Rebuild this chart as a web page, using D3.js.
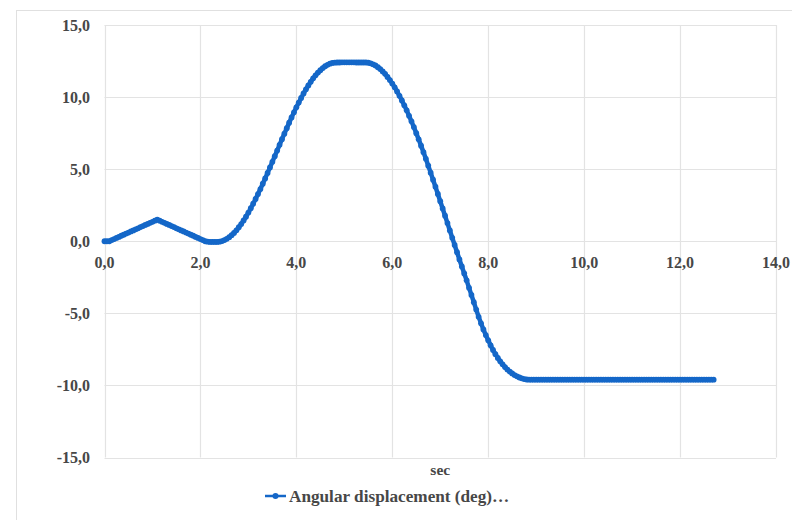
<!DOCTYPE html>
<html>
<head>
<meta charset="utf-8">
<script src="https://cdn.jsdelivr.net/npm/d3@7"></script>
<style>
  html, body { margin: 0; padding: 0; background: #ffffff; }
  svg { display: block; }
  .tick-label { font-family: "Liberation Serif", "Times New Roman", serif; font-weight: bold; fill: #474747; }
</style>
</head>
<body>
<svg id="chart" width="792" height="520"></svg>
<script>
// Sampling interval of the recorded series (seconds)
const sampleStep = 0.05;

// Angular displacement (deg), one row per second of recording
const angularDisplacement = [
  0, 0, 0, 0.08, 0.15, 0.23, 0.30, 0.38, 0.45, 0.53, 0.60, 0.68, 0.75, 0.83, 0.90, 0.98, 1.05, 1.13, 1.20, 1.28,
  1.35, 1.43, 1.50, 1.43, 1.35, 1.28, 1.20, 1.13, 1.05, 0.98, 0.90, 0.83, 0.75, 0.68, 0.60, 0.53, 0.45, 0.38, 0.30, 0.23,
  0.15, 0.08, 0.00, -0.03, -0.05, -0.05, -0.05, -0.05, -0.03, 0.01, 0.08, 0.17, 0.28, 0.42, 0.58, 0.76, 0.97, 1.19, 1.44, 1.70,
  1.99, 2.29, 2.60, 2.93, 3.27, 3.62, 3.99, 4.36, 4.74, 5.12, 5.51, 5.90, 6.29, 6.69, 7.08, 7.46, 7.84, 8.22, 8.59, 8.94,
  9.29, 9.62, 9.94, 10.25, 10.54, 10.81, 11.06, 11.30, 11.51, 11.70, 11.86, 12.01, 12.14, 12.24, 12.32, 12.37, 12.39, 12.40, 12.40, 12.41,
  12.41, 12.41, 12.41, 12.41, 12.41, 12.40, 12.40, 12.40, 12.40, 12.40, 12.38, 12.34, 12.27, 12.19, 12.07, 11.94, 11.78, 11.61, 11.40, 11.18,
  10.94, 10.68, 10.39, 10.09, 9.77, 9.43, 9.08, 8.70, 8.32, 7.92, 7.50, 7.07, 6.63, 6.18, 5.72, 5.24, 4.76, 4.27, 3.78, 3.28,
  2.78, 2.27, 1.77, 1.26, 0.75, 0.24, -0.26, -0.76, -1.26, -1.75, -2.23, -2.71, -3.23, -3.72, -4.23, -4.74, -5.24, -5.69, -6.12, -6.51,
  -6.87, -7.22, -7.54, -7.83, -8.09, -8.33, -8.54, -8.73, -8.90, -9.04, -9.17, -9.28, -9.37, -9.45, -9.51, -9.56, -9.59, -9.6, -9.6, -9.6,
  -9.6, -9.6, -9.6, -9.6, -9.6, -9.6, -9.6, -9.6, -9.6, -9.6, -9.6, -9.6, -9.6, -9.6, -9.6, -9.6, -9.6, -9.6, -9.6, -9.6,
  -9.6, -9.6, -9.6, -9.6, -9.6, -9.6, -9.6, -9.6, -9.6, -9.6, -9.6, -9.6, -9.6, -9.6, -9.6, -9.6, -9.6, -9.6, -9.6, -9.6,
  -9.6, -9.6, -9.6, -9.6, -9.6, -9.6, -9.6, -9.6, -9.6, -9.6, -9.6, -9.6, -9.6, -9.6, -9.6, -9.6, -9.6, -9.6, -9.6, -9.6,
  -9.6, -9.6, -9.6, -9.6, -9.6, -9.6, -9.6, -9.6, -9.6, -9.6, -9.6, -9.6, -9.6, -9.6, -9.6
];

// Axis ticks
const xTicks = [0, 2, 4, 6, 8, 10, 12, 14];
const yTicks = [15, 10, 5, 0, -5, -10, -15];
const xAxisTitle = "sec";
const seriesName = "Angular displacement (deg)…";

const fmt = v => v.toFixed(1).replace(".", ",");

const svg = d3.select("#chart");
const plot = { left: 104.5, right: 776, top: 25, bottom: 457.5 };

const x = d3.scaleLinear().domain([0, 14]).range([plot.left, plot.right]);
const y = d3.scaleLinear().domain([-15, 15]).range([plot.bottom, plot.top]);

const blue = "#1467c8";
const gridColor = "#e3e3e3";

// Chart area frame
svg.append("rect")
  .attr("x", 16.5).attr("y", 10.5)
  .attr("width", 800).attr("height", 540)
  .attr("fill", "none").attr("stroke", "#e0e0e0").attr("stroke-width", 1);

// Gridlines
const grid = svg.append("g");
grid.selectAll("line.h").data(yTicks).join("line")
  .attr("x1", plot.left).attr("x2", plot.right)
  .attr("y1", d => Math.round(y(d)) + 0.5).attr("y2", d => Math.round(y(d)) + 0.5)
  .attr("stroke", gridColor).attr("stroke-width", 1.2);
grid.selectAll("line.v").data(xTicks).join("line")
  .attr("y1", plot.top).attr("y2", plot.bottom)
  .attr("x1", d => Math.round(x(d)) + 0.5).attr("x2", d => Math.round(x(d)) + 0.5)
  .attr("stroke", gridColor).attr("stroke-width", 1.2);

// Y tick labels
svg.append("g").selectAll("text").data(yTicks).join("text")
  .attr("class", "tick-label")
  .attr("x", 90).attr("y", d => y(d) + 5.5)
  .attr("text-anchor", "end")
  .attr("font-size", 16)
  .text(fmt);

// X tick labels, hung below the zero line
svg.append("g").selectAll("text").data(xTicks).join("text")
  .attr("class", "tick-label")
  .attr("x", d => x(d)).attr("y", y(0) + 27)
  .attr("text-anchor", "middle")
  .attr("font-size", 16)
  .text(fmt);

// X axis title
svg.append("text")
  .attr("class", "tick-label")
  .attr("x", (plot.left + plot.right) / 2).attr("y", 475)
  .attr("text-anchor", "middle")
  .attr("font-size", 15.5)
  .text(xAxisTitle);

// Series
const points = angularDisplacement.map((v, i) => ({ t: i * sampleStep, v }));

svg.append("path")
  .datum(points)
  .attr("fill", "none")
  .attr("stroke", blue)
  .attr("stroke-width", 4.5)
  .attr("stroke-linejoin", "round")
  .attr("stroke-linecap", "round")
  .attr("d", d3.line().x(d => x(d.t)).y(d => y(d.v)));

svg.append("g").selectAll("circle").data(points).join("circle")
  .attr("cx", d => x(d.t)).attr("cy", d => y(d.v))
  .attr("r", 2.9)
  .attr("fill", blue);

// Legend
const legend = svg.append("g");
legend.append("line")
  .attr("x1", 265).attr("x2", 286).attr("y1", 496).attr("y2", 496)
  .attr("stroke", blue).attr("stroke-width", 2.5);
legend.append("circle")
  .attr("cx", 275.5).attr("cy", 496).attr("r", 3).attr("fill", blue);
legend.append("text")
  .attr("class", "tick-label")
  .attr("x", 289).attr("y", 502)
  .attr("font-size", 17.2)
  .text(seriesName);
</script>
</body>
</html>
